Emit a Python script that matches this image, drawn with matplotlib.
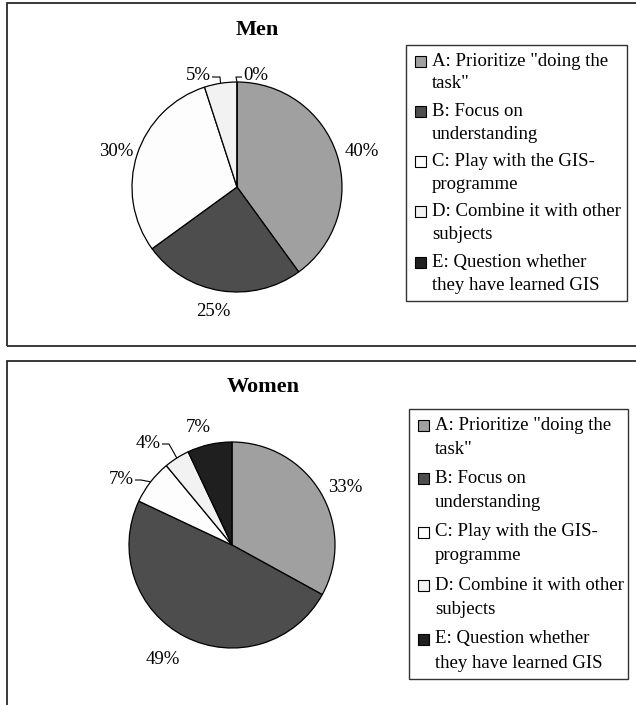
import matplotlib
matplotlib.use("Agg")
import matplotlib.pyplot as plt
from matplotlib.patches import Rectangle
import numpy as np

plt.rcParams["font.family"] = ["Liberation Serif", "DejaVu Serif"]

# ── Data ──
categories = [
    'A: Prioritize "doing the\ntask"',
    "B: Focus on\nunderstanding",
    "C: Play with the GIS-\nprogramme",
    "D: Combine it with other\nsubjects",
    "E: Question whether\nthey have learned GIS",
]
men_pct = [40, 25, 30, 5, 0]
women_pct = [33, 49, 7, 4, 7]

slice_colors = ["#a0a0a0", "#4d4d4d", "#fdfdfd", "#f2f2f2", "#1f1f1f"]

# ── Layout (pixel coordinates, y measured from the top) ──
W, H = 636, 705
panels = [
    dict(title="Men", values=men_pct, title_xy=(257, 30), center=(237, 187),
         radius=105, frame=(7, 3, 645, 346), legend_box=(406, 45, 627, 301),
         legend_first=61, legend_step=50.3, legend_ls=23,
         # label position, alignment, leader stub (px, None = no leader)
         labels=[((362, 151), "center", None),
                 ((213, 312), "center", None),
                 ((116, 151), "center", None),
                 ((211, 76), "right", 8),
                 ((243, 76), "left", 6)]),
    dict(title="Women", values=women_pct, title_xy=(263, 387), center=(232, 545),
         radius=103, frame=(7, 361, 645, 720), legend_box=(409, 409, 628, 679),
         legend_first=425, legend_step=53.5, legend_ls=24,
         labels=[((345, 487), "center", None),
                 ((163, 660), "center", None),
                 ((134, 479), "right", 6),
                 ((161, 443), "right", 7),
                 ((198, 428), "center", None)]),
]

FS = 13.5


def Y(py):
    return H - py


fig = plt.figure(figsize=(W / 100, H / 100), dpi=100)
ax = fig.add_axes([0, 0, 1, 1])

for p in panels:
    # outer frame
    fx0, fy0, fx1, fy1 = p["frame"]
    ax.add_patch(Rectangle((fx0, Y(fy1)), fx1 - fx0, fy1 - fy0, facecolor="none",
                           edgecolor="#2a2a2a", linewidth=1.3, zorder=1))

    ax.text(p["title_xy"][0], Y(p["title_xy"][1]), p["title"], ha="center",
            va="center", fontsize=16, fontweight="bold")

    cx, cy = p["center"]
    r = p["radius"]
    wedges, _ = ax.pie(p["values"], colors=slice_colors, startangle=90,
                       counterclock=False, center=(cx, Y(cy)), radius=r,
                       wedgeprops=dict(edgecolor="black", linewidth=0.9))

    for w, v, (pos, ha, stub) in zip(wedges, p["values"], p["labels"]):
        lx, ly = pos[0], Y(pos[1])
        ax.text(lx, ly, f"{v}%", ha=ha, va="center", fontsize=FS)
        if stub is None:
            continue
        mid = np.deg2rad((w.theta1 + w.theta2) / 2)
        ex, ey = cx + r * np.cos(mid), Y(cy) + r * np.sin(mid)
        sx = lx + 1 if ha == "right" else lx - 1
        kx = sx + stub if ha == "right" else sx - stub
        ax.plot([sx, kx, ex], [ly - 1, ly - 1, ey], color="black", linewidth=0.8,
                solid_capstyle="butt", zorder=4)

    # legend
    bx0, by0, bx1, by1 = p["legend_box"]
    ax.add_patch(Rectangle((bx0, Y(by1)), bx1 - bx0, by1 - by0, facecolor="white",
                           edgecolor="#333333", linewidth=1.0, zorder=2))
    for i, (lab, col) in enumerate(zip(categories, slice_colors)):
        y0 = p["legend_first"] + i * p["legend_step"]
        ax.add_patch(Rectangle((bx0 + 9, Y(y0 + 5.5)), 11, 11, facecolor=col,
                               edgecolor="black", linewidth=0.8, zorder=3))
        for j, line in enumerate(lab.split("\n")):
            ax.text(bx0 + 26, Y(y0 + j * p["legend_ls"]), line, ha="left",
                    va="center", fontsize=FS, zorder=4)

ax.set_xlim(0, W)
ax.set_ylim(0, H)
ax.set_aspect("auto")
ax.axis("off")

fig.savefig("out.png", dpi=100, facecolor="white")
